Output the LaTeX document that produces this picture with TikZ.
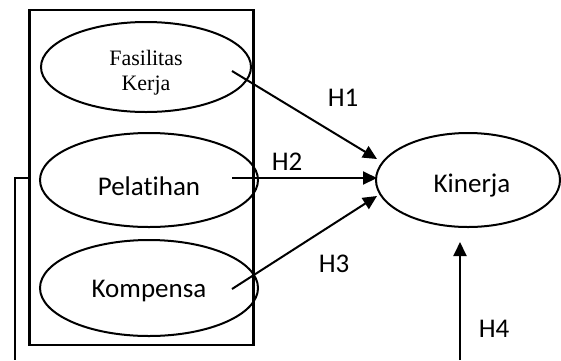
\documentclass[tikz,border=0pt]{standalone}
\usepackage{fontspec}
\setmainfont[Ligatures={NoCommon,NoContextual},RawFeature={-liga;-clig;-calt}]{Carlito}
\newfontfamily\timesf{Liberation Serif}
\usetikzlibrary{shapes.geometric,arrows.meta}
\tikzset{
  lat/.style={draw=black,line width=2pt,ellipse,inner sep=0pt},
  lbl/.style={font=\fontsize{27}{30}\selectfont,inner sep=0pt},
  arr/.style={line width=2pt,-{Triangle[length=14pt,width=13pt]}},
  ln/.style={line width=2pt}
}
\begin{document}
\begin{tikzpicture}[x=1pt,y=-1pt]
\useasboundingbox (0,0) rectangle (561,360);
\node[draw,line width=2.3pt,minimum width=224pt,minimum height=335pt,inner sep=0pt] (box) at (141.5,177.5) {};
\node[lat,minimum width=210pt,minimum height=90pt] (fk) at (146,67) {};
\node[font=\timesf\fontsize{22}{25}\selectfont,align=center,inner sep=0pt] (fkt) at (146,73) {Fasilitas\\Kerja};
\node[lat,minimum width=218pt,minimum height=94pt] (pl) at (149,180) {};
\node[lbl] (plt) at (149,186) {Pelatihan};
\node[lat,minimum width=218pt,minimum height=96pt] (kp) at (149,288) {};
\node[lbl] (kpt) at (149,291) {Kompensa};
\node[lat,minimum width=184pt,minimum height=94pt] (kn) at (468,180) {};
\node[lbl] (knt) at (472,186) {Kinerja};
\coordinate (s1) at (232,71);
\coordinate (e1) at (377,159);
\coordinate (s2) at (232,178);
\coordinate (e2) at (377,178);
\coordinate (s3) at (232,289);
\coordinate (e3) at (377,196);
\coordinate (s4) at (460,360);
\coordinate (e4) at (460,242);
\draw[arr] (s1) -- (e1);
\draw[arr] (s2) -- (e2);
\draw[arr] (s3) -- (e3);
\draw[arr] (s4) -- (e4);
\coordinate (la) at (box.west |- 0,178);
\coordinate (lb) at (14.5,178);
\coordinate (lc) at (14.5,360);
\draw[ln] (la) -- (lb) -- (lc);
\node[lbl] (h1) at (343,98) {H1};
\node[lbl] (h2) at (287,162) {H2};
\node[lbl] (h3) at (334,264) {H3};
\node[lbl] (h4) at (494,329) {H4};
\end{tikzpicture}
\end{document}
